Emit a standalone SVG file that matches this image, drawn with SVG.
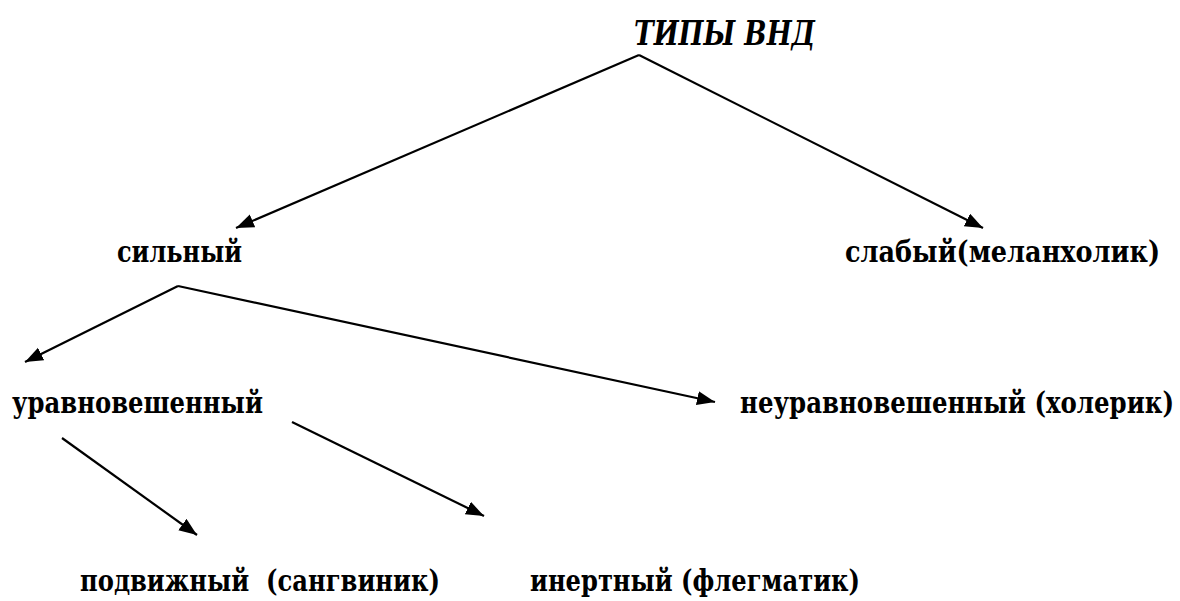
<svg xmlns="http://www.w3.org/2000/svg" width="1180" height="601" viewBox="0 0 1180 601">
<style>
text{font-family:"DejaVu Serif",serif;font-weight:bold;font-size:30px;fill:#000}
.t{font-style:italic;font-size:34px}
.c line{stroke:#000;stroke-width:2.2;fill:none}
</style>
<defs>
<marker id="a" markerUnits="userSpaceOnUse" markerWidth="20" markerHeight="16" refX="18" refY="7" orient="auto">
<path d="M0,0 L18,7 L0,14 Z" fill="#000"/>
</marker>
</defs>
<rect width="1180" height="601" fill="#fff"/>
<g class="c" id="connectors">
<line x1="639" y1="55" x2="236" y2="228" marker-end="url(#a)"/>
<line x1="639" y1="55" x2="983" y2="228" marker-end="url(#a)"/>
<line x1="178" y1="286" x2="25" y2="362" marker-end="url(#a)"/>
<line x1="178" y1="286" x2="715" y2="402" marker-end="url(#a)"/>
<line x1="62" y1="438" x2="197" y2="535" marker-end="url(#a)"/>
<line x1="292" y1="422" x2="484" y2="516" marker-end="url(#a)"/>
</g>
<g id="root"><text class="t" x="634" y="45" textLength="181" lengthAdjust="spacingAndGlyphs">ТИПЫ ВНД</text></g>
<g id="strong"><text x="117" y="262" textLength="125" lengthAdjust="spacingAndGlyphs">сильный</text></g>
<g id="weak"><text x="845" y="262" textLength="315" lengthAdjust="spacingAndGlyphs">слабый(меланхолик)</text></g>
<g id="balanced"><text x="12" y="413" textLength="251" lengthAdjust="spacingAndGlyphs">уравновешенный</text></g>
<g id="unbalanced"><text x="740" y="413" textLength="434" lengthAdjust="spacingAndGlyphs">неуравновешенный (холерик)</text></g>
<g id="mobile"><text x="80" y="591" textLength="360" lengthAdjust="spacingAndGlyphs" xml:space="preserve">подвижный  (сангвиник)</text></g>
<g id="inert"><text x="530" y="591" textLength="330" lengthAdjust="spacingAndGlyphs">инертный (флегматик)</text></g>
</svg>
